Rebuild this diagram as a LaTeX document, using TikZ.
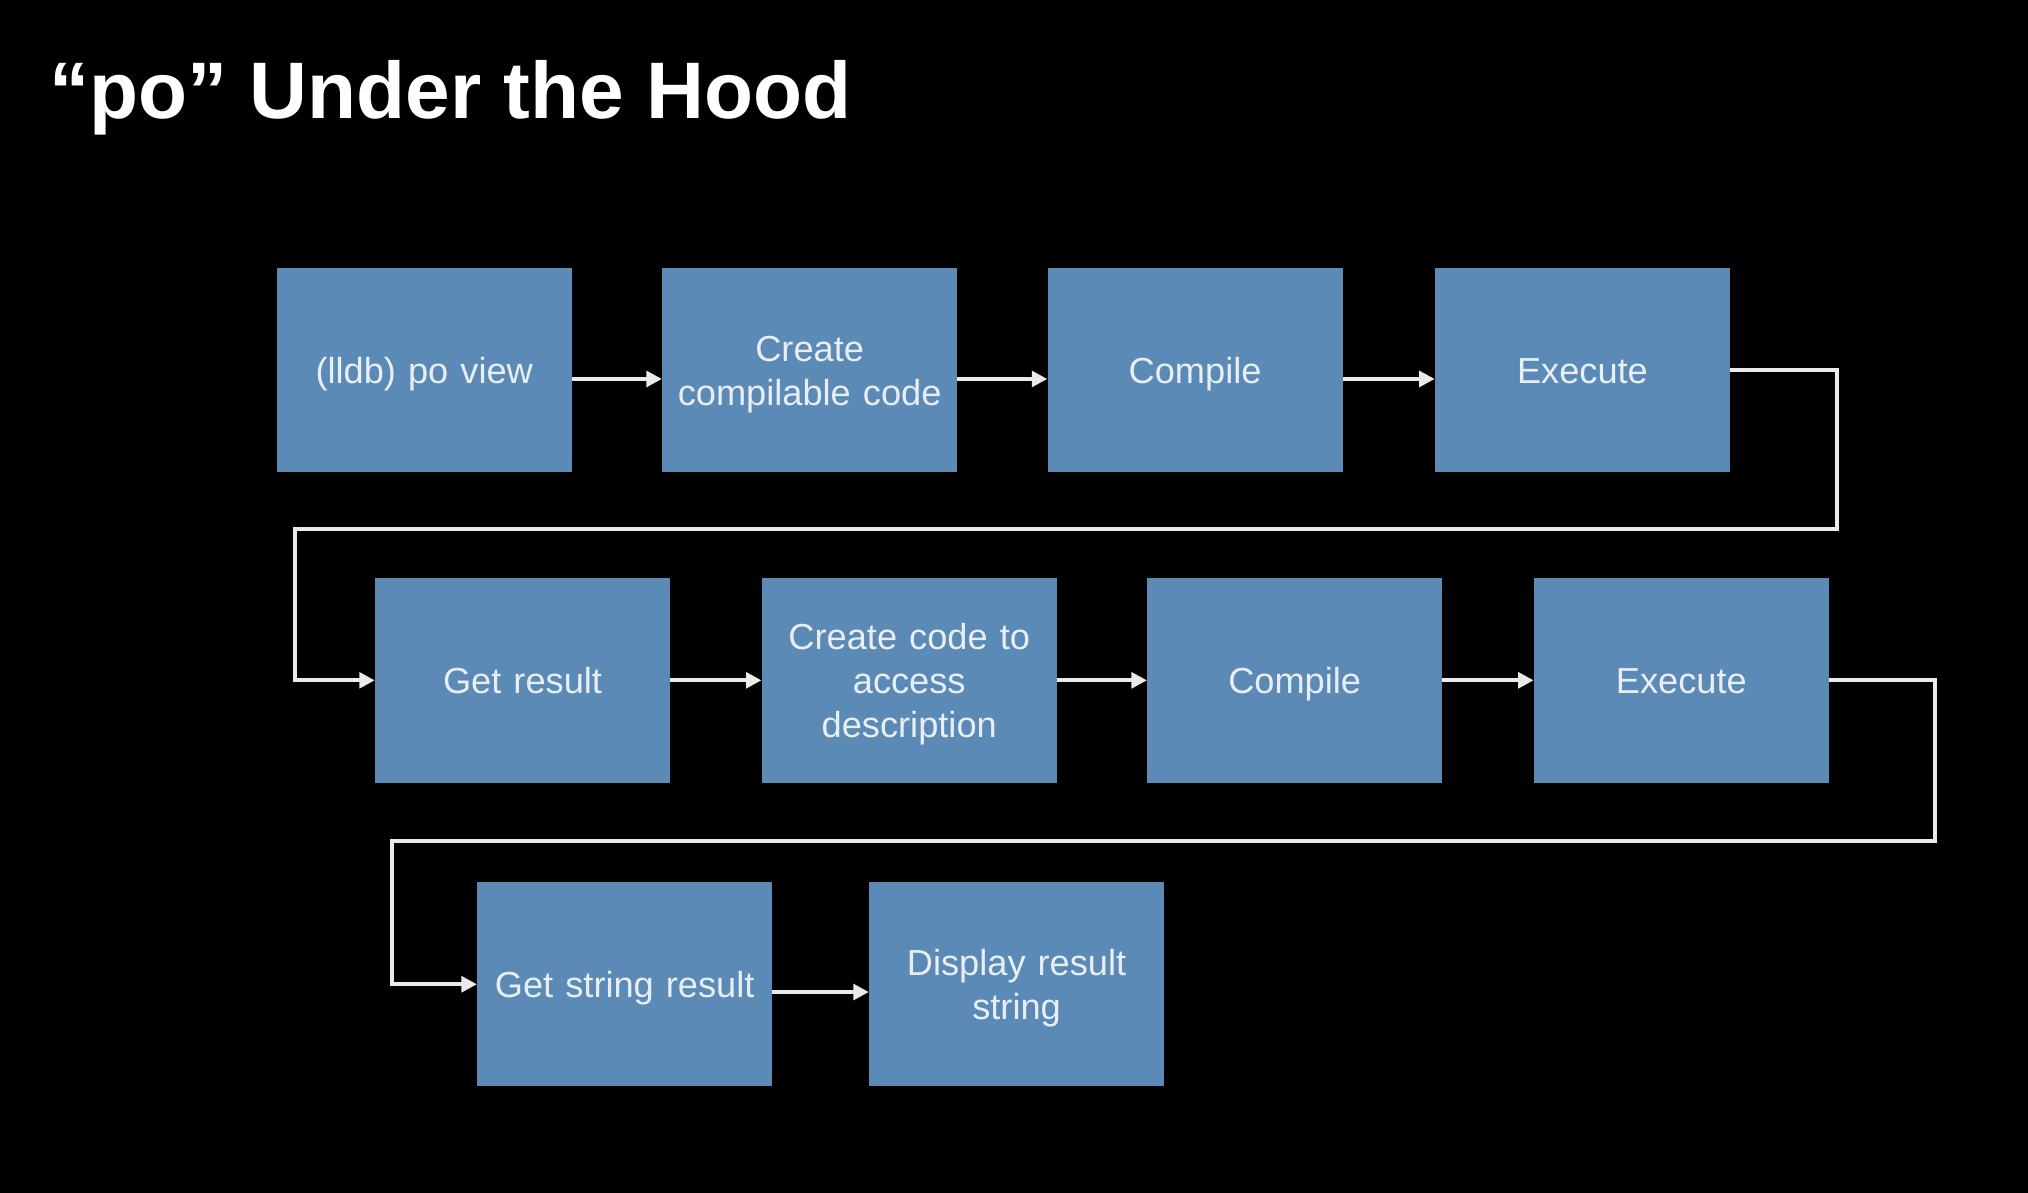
\documentclass[tikz,border=0pt]{standalone}
\usepackage{fontspec}
\setmainfont{Liberation Sans}
\usetikzlibrary{arrows.meta}
\definecolor{boxblue}{HTML}{5A8AB5}
\definecolor{boxtext}{HTML}{E8EEF4}
\definecolor{wire}{HTML}{EAEAEA}

\begin{document}
\begin{tikzpicture}[x=1pt,y=-1pt,
stepbox/.style={fill=boxblue,text=boxtext,minimum width=228pt,minimum height=158pt,
  inner sep=0pt,text width=224pt,align=center,font=\fontsize{28}{34}\selectfont,
  execute at begin node=\rule{0pt}{31pt},execute at end node=\strut},
flow/.style={draw=wire,line width=3pt,-{Triangle[length=12pt,width=12pt]}}
]
\useasboundingbox[fill=black] (0,0) rectangle (1568,922);
\node[anchor=base west,text=white,inner sep=0pt,font=\fontsize{62}{70}\selectfont\bfseries]
  (title) at (38,92) {“po” Under the Hood};

% first row
\node[stepbox] (lldb) at (328,286) {(lldb) po view};
\node[stepbox] (create) at (626,286) {Create\\compilable code};
\node[stepbox] (compileA) at (924,286) {Compile};
\node[stepbox] (executeA) at (1223.5,286) {Execute};
% second row
\node[stepbox] (getresult) at (404,526) {Get result};
\node[stepbox] (createdesc) at (703,526) {Create code to\\access\\description};
\node[stepbox] (compileB) at (1001,526) {Compile};
\node[stepbox] (executeB) at (1300,526) {Execute};
% third row
\node[stepbox] (getstring) at (483,761) {Get string result};
\node[stepbox] (display) at (786,761) {Display result\\string};

% turning points of the long connectors
\coordinate (turnA) at (1420,409);
\coordinate (turnB) at (228,409);
\coordinate (turnC) at (1496,650);
\coordinate (turnD) at (303,650);

\draw[flow] ([yshift=-7pt]lldb.east) -- ([yshift=-7pt]create.west);
\draw[flow] ([yshift=-7pt]create.east) -- ([yshift=-7pt]compileA.west);
\draw[flow] ([yshift=-7pt]compileA.east) -- ([yshift=-7pt]executeA.west);
\draw[flow] (executeA.east) -| (turnA) -- (turnB) |- (getresult.west);
\draw[flow] (getresult.east) -- (createdesc.west);
\draw[flow] (createdesc.east) -- (compileB.west);
\draw[flow] (compileB.east) -- (executeB.west);
\draw[flow] (executeB.east) -| (turnC) -- (turnD) |- (getstring.west);
\draw[flow] ([yshift=-6pt]getstring.east) -- ([yshift=-6pt]display.west);
\end{tikzpicture}
\end{document}
